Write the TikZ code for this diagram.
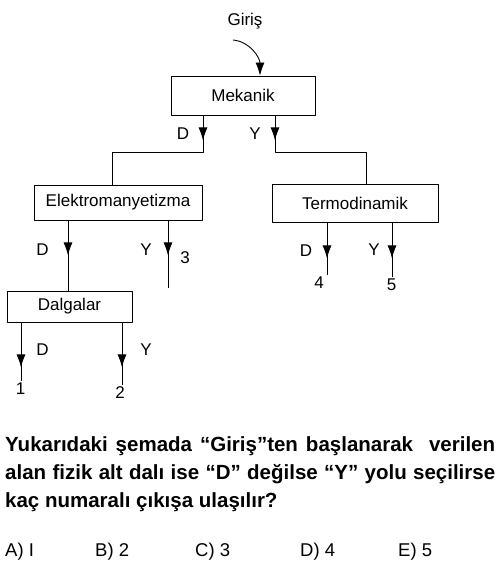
\documentclass[tikz,border=0pt]{standalone}
\usepackage{fontspec}
\setmainfont{Liberation Sans}
\usetikzlibrary{arrows.meta, decorations.markings}

\begin{document}
\begin{tikzpicture}[x=1pt, y=-1pt, >={Latex[length=13pt,width=9pt]}, line join=round,
		font=\fontsize{17}{20}\selectfont,
		branch/.style={draw, line width=0.9pt, inner sep=0pt},
		wire/.style={line width=0.9pt},
		tipat/.style={postaction={decorate},
			decoration={markings, mark=at position #1 with {\arrow{>}}}},
		way/.style={inner sep=0pt},
		exit/.style={inner sep=1.5pt}]
		
		\useasboundingbox (0,0) rectangle (503,580);
		
		%========================
		% boxes
		%========================
		\node[way] (giris) at (245,21) {Giriş};
		\node[branch, minimum width=144pt, minimum height=39pt] (mek) at (243,95.5) {Mekanik};
		\node[branch, minimum width=168pt, minimum height=35pt] (elek) at (118,202.5) {Elektromanyetizma};
		\node[branch, minimum width=166pt, minimum height=38pt] (termo) at (355,203) {Termodinamik};
		\node[branch, minimum width=125pt, minimum height=31pt] (dalga) at (69.5,306.5) {Dalgalar};
		
		% exits
		\node[exit] (out1) at (20.5,388.5) {1};
		\node[exit] (out2) at (120,392.5) {2};
		\node[exit] (out3) at (185,258) {3};
		\node[exit] (out4) at (319,282.5) {4};
		\node[exit] (out5) at (391.5,285) {5};
		
		% entry arrow
		\coordinate (gstart) at (233,40);
		\draw[wire,->] (gstart) to[out=-5, in=90] ([xshift=17pt]mek.north);
		
		%========================
		% branches
		%========================
		% Mekanik
		\coordinate (mekD) at ([xshift=-40pt]mek.south);
		\coordinate (mekY) at ([xshift=32pt]mek.south);
		\draw[wire, tipat=25pt] (mekD) -- ++(0,37) -| ([xshift=-6pt]elek.north);
		\draw[wire, tipat=25pt] (mekY) -- ++(0,37) -| ([xshift=11pt]termo.north);
		\node[way] (mekDl) at (183,134) {D};
		\node[way] (mekYl) at (255,134) {Y};
		
		% Elektromanyetizma
		\coordinate (elekYend) at (168,288);
		\draw[wire, tipat=35pt] ([xshift=-50pt]elek.south) -- ([xshift=-50pt]elek.south |- dalga.north);
		\draw[wire, tipat=35pt] ([xshift=50pt]elek.south) -- (elekYend);
		\node[way] (elekDl) at (42.5,250) {D};
		\node[way] (elekYl) at (146,250) {Y};
		
		% Dalgalar
		\draw[wire, tipat=45pt] ([xshift=-48.5pt]dalga.south) -- ([xshift=-48.5pt]dalga.south |- out1.north);
		\draw[wire, tipat=45pt] ([xshift=52.5pt]dalga.south) -- ([xshift=52.5pt]dalga.south |- out2.north);
		\node[way] (dalgaDl) at (42.5,350) {D};
		\node[way] (dalgaYl) at (146,350) {Y};
		
		% Termodinamik
		\draw[wire, tipat=36pt] ([xshift=-28pt]termo.south) -- ([xshift=-28pt]termo.south |- out4.north);
		\draw[wire, tipat=36pt] ([xshift=37pt]termo.south) -- ([xshift=37pt]termo.south |- out5.north);
		\node[way] (termoDl) at (306,251) {D};
		\node[way] (termoYl) at (374,249.5) {Y};
		
		%========================
		% question
		%========================
		\node[anchor=north west, inner sep=0pt, text width=490pt, align=justify,
		font=\fontsize{20.5}{28}\selectfont\bfseries] (soru) at (5,436.5)
		{Yukarıdaki şemada “Giriş”ten başlanarak \ verilen\linebreak
			alan fizik alt dalı ise “D” değilse “Y” yolu seçilirse\linebreak
			kaç numaralı çıkışa ulaşılır?};
		
		\node[anchor=base west, inner sep=0pt, font=\fontsize{18.5}{22}\selectfont] (optA) at (5,556) {A) I};
		\node[anchor=base west, inner sep=0pt, font=\fontsize{18.5}{22}\selectfont] (optB) at (95,556) {B) 2};
		\node[anchor=base west, inner sep=0pt, font=\fontsize{18.5}{22}\selectfont] (optC) at (195,556) {C) 3};
		\node[anchor=base west, inner sep=0pt, font=\fontsize{18.5}{22}\selectfont] (optD) at (300,556) {D) 4};
		\node[anchor=base west, inner sep=0pt, font=\fontsize{18.5}{22}\selectfont] (optE) at (398,556) {E) 5};
		
	\end{tikzpicture}
\end{document}
